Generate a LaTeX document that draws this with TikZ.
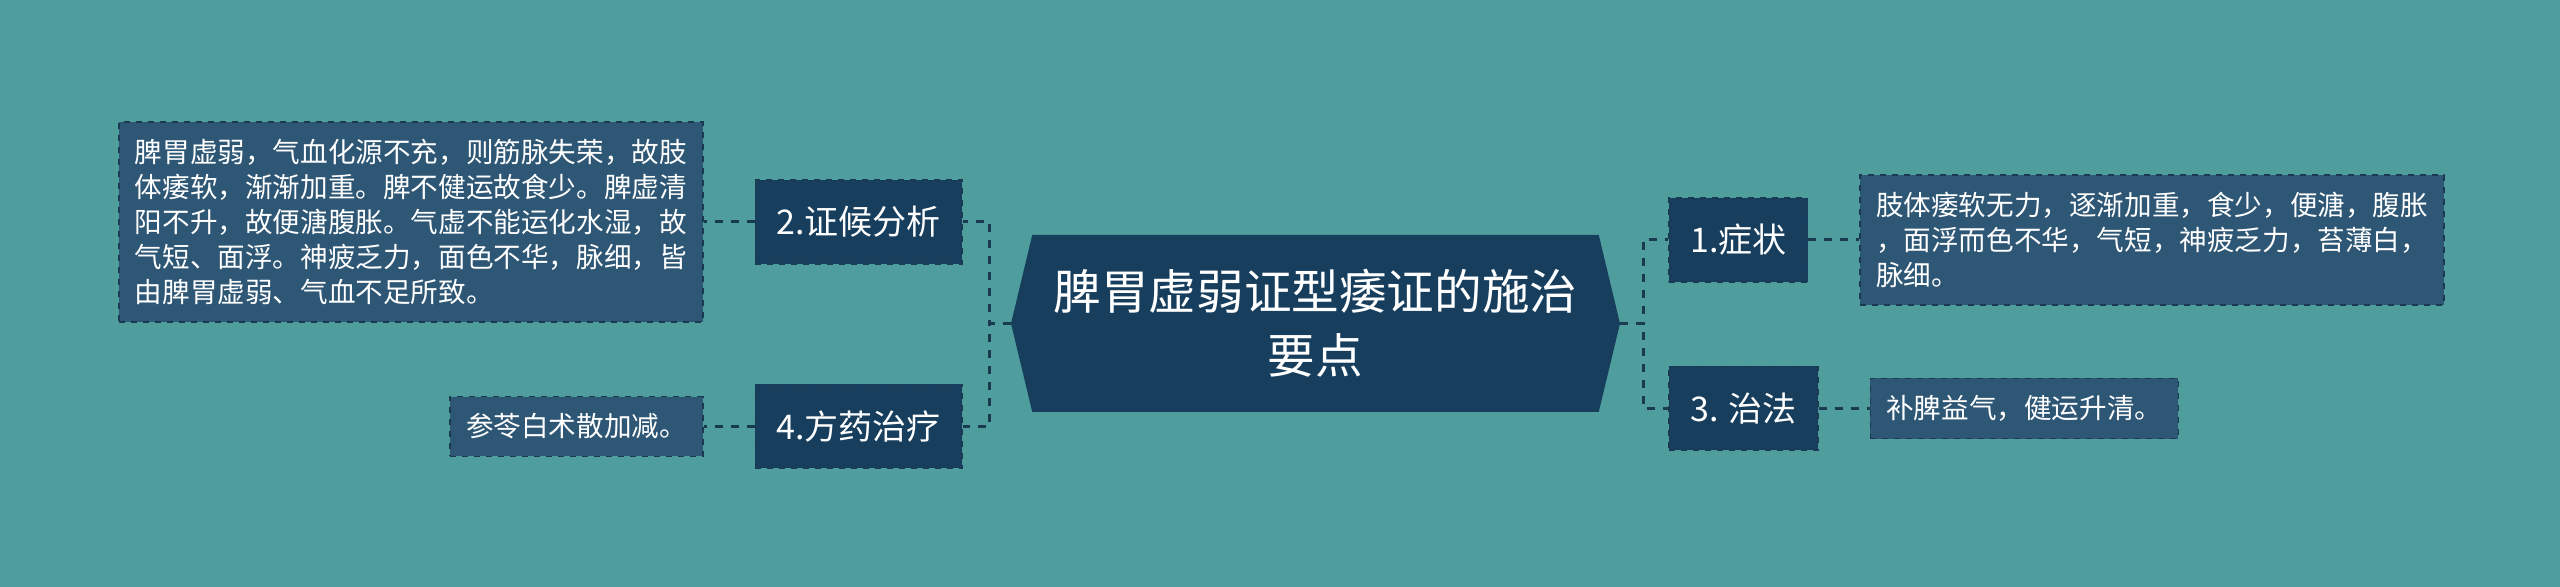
\documentclass[tikz,border=0pt]{standalone}
\usepackage{fontspec}
\setmainfont{Noto Sans CJK SC}
\usetikzlibrary{positioning,shapes.symbols}
\definecolor{bgteal}{RGB}{79,157,157}
\definecolor{hubblue}{RGB}{23,62,93}
\definecolor{leafblue}{RGB}{46,86,117}
\definecolor{edgeblue}{RGB}{26,58,82}

\begin{document}
\begin{tikzpicture}[
        hubnode/.style={signal, signal to=west and east, signal pointer angle=153, fill=hubblue, text=white, align=center, minimum width=304.5pt, minimum height=88.5pt, inner sep=0pt, font=\fontsize{23.8pt}{32pt}\selectfont},
        branchnode/.style={rectangle, fill=hubblue, draw=edgeblue, dashed, line width=0.8pt, text=white, minimum height=42pt, inner xsep=10.5pt, font=\fontsize{17pt}{20pt}\selectfont},
        leafnode/.style={rectangle, fill=leafblue, draw=edgeblue, dashed, line width=0.8pt, text=white, align=left, inner xsep=8pt, inner ysep=8.5pt, font=\fontsize{13.8pt}{17.5pt}\selectfont},
        link/.style={draw=edgeblue, line width=1.5pt, dash pattern=on 4pt off 4pt}]
        \fill[bgteal] (0,0) rectangle (1280pt,-293.5pt);
        \node[hubnode] (hub) at (657.75pt,-161.75pt) {脾胃虚弱证型痿证的施治\\要点};
        % left side
        \node[branchnode] (analysis) [left=24pt of hub, yshift=50.75pt] {2.证候分析};
        \node[branchnode] (remedy) [left=24pt of hub, yshift=-51.5pt] {4.方药治疗};
        \node[leafnode] (analysistext) [left=25.5pt of analysis] {脾胃虚弱，气血化源不充，则筋脉失荣，故肢\\体痿软，渐渐加重。脾不健运故食少。脾虚清\\阳不升，故便溏腹胀。气虚不能运化水湿，故\\气短、面浮。神疲乏力，面色不华，脉细，皆\\由脾胃虚弱、气血不足所致。};
        \node[leafnode] (remedytext) [left=25.5pt of remedy] {参苓白术散加减。};
        % right side
        \node[branchnode] (symptom) [right=24pt of hub, yshift=41.75pt] {1.症状};
        \node[branchnode] (therapy) [right=24pt of hub, yshift=-42.5pt] {3. 治法};
        \node[leafnode] (symptomtext) [right=25.5pt of symptom] {肢体痿软无力，逐渐加重，食少，便溏，腹胀\\，面浮而色不华，气短，神疲乏力，苔薄白，\\脉细。};
        \node[leafnode] (therapytext) [right=25.5pt of therapy] {补脾益气，健运升清。};
        \draw[link] (hub.west) -- ++(-10.5pt,0) |- (analysis.east);
        \draw[link] (hub.west) -- ++(-10.5pt,0) |- (remedy.east);
        \draw[link] (hub.east) -- ++(11.5pt,0) |- (symptom.west);
        \draw[link] (hub.east) -- ++(11.5pt,0) |- (therapy.west);
        \draw[link] (analysis.west) -- (analysistext.east);
        \draw[link] (remedy.west) -- (remedytext.east);
        \draw[link] (symptom.east) -- (symptomtext.west);
        \draw[link] (therapy.east) -- (therapytext.west);
\end{tikzpicture}
\end{document}
